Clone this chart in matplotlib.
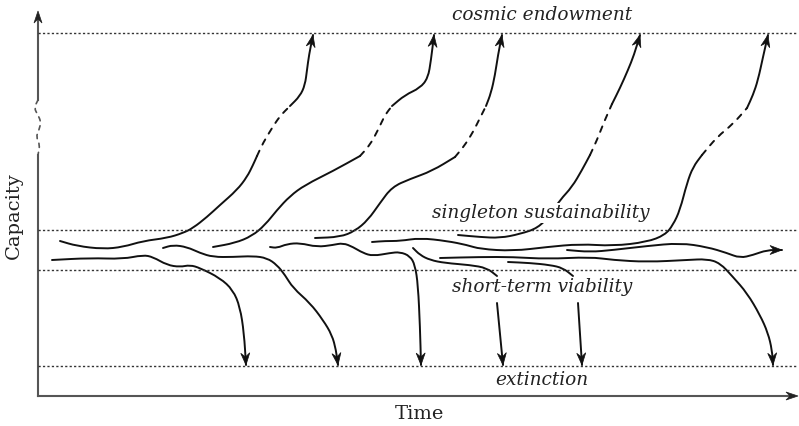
import numpy as np
import matplotlib.pyplot as plt
from matplotlib.path import Path
from matplotlib.patches import PathPatch, Polygon

# ── Data (diagram traced in pixel units, y grows downward) ────────────────────
level_names = ["cosmic endowment", "singleton sustainability",
               "short-term viability", "extinction"]
level_y     = [33, 230, 270, 366]
label_x     = [542, 541, 542, 542]
label_y     = [15, 213, 287, 380]

# trajectories that rise to the cosmic endowment: solid / dashed / solid
up1_low  = [(60, 241), (77, 246), (103, 249), (123, 247), (143, 241), (167, 238),
            (183, 233), (193, 228), (207, 217), (220, 205), (237, 190), (247, 177),
            (253, 165), (257, 156)]
up1_mid  = [(257, 156), (263, 143), (272, 128), (280, 116), (290, 106)]
up1_top  = [(290, 106), (300, 96), (305, 85), (307, 70), (309, 55), (313, 35)]

up2_low  = [(213, 247), (235, 243), (252, 236), (265, 225), (277, 210), (290, 196),
            (305, 185), (333, 171), (360, 156)]
up2_mid  = [(360, 156), (370, 145), (378, 130), (385, 115), (392, 106)]
up2_top  = [(392, 106), (405, 95), (420, 88), (428, 78), (431, 60), (434, 35)]

up3_low  = [(315, 238), (340, 237), (355, 231), (368, 220), (380, 203), (392, 187),
            (410, 179), (432, 171), (455, 157)]
up3_mid  = [(455, 157), (465, 145), (473, 132), (480, 118), (486, 106)]
up3_top  = [(486, 106), (491, 93), (495, 75), (498, 55), (502, 35)]

up4_low  = [(458, 235), (480, 237), (500, 238), (520, 234), (538, 228), (550, 215),
            (560, 200), (572, 187), (582, 170), (590, 155)]
up4_mid  = [(590, 155), (597, 140), (604, 122), (612, 104)]
up4_top  = [(612, 104), (620, 88), (628, 70), (634, 55), (640, 35)]

up5_low  = [(372, 242), (385, 241), (400, 241), (420, 238), (447, 241), (467, 245),
            (480, 249), (513, 251), (547, 247), (580, 244), (613, 246), (647, 242),
            (665, 235), (673, 225), (680, 210), (687, 183), (693, 167), (702, 155)]
up5_mid  = [(702, 155), (717, 137), (733, 124), (747, 108)]
up5_top  = [(747, 108), (753, 95), (758, 80), (763, 57), (768, 35)]

# trajectories that fall to extinction
down1 = [(52, 260), (90, 258), (123, 259), (143, 255), (153, 257), (167, 265),
         (180, 267), (190, 265), (200, 268), (220, 278), (233, 290), (240, 307),
         (244, 333), (246, 365)]
down2 = [(163, 248), (173, 245), (187, 247), (200, 253), (213, 257), (233, 257),
         (253, 256), (267, 258), (277, 265), (285, 275), (293, 288), (310, 303),
         (323, 320), (332, 335), (336, 350), (338, 365)]
down3 = [(270, 247), (277, 248), (287, 244), (300, 243), (317, 247), (333, 245),
         (343, 243), (353, 247), (363, 253), (373, 256), (390, 253), (400, 252),
         (410, 256), (415, 265), (418, 285), (420, 327), (421, 365)]
down4_a = [(413, 248), (420, 255), (430, 260), (445, 263), (470, 265), (487, 268),
           (497, 276)]
down4_b = [(497, 303), (503, 365)]
down5_a = [(508, 262), (530, 263), (550, 265), (563, 268), (573, 276)]
down5_b = [(578, 303), (582, 365)]
down6 = [(440, 258), (480, 257), (513, 257), (547, 259), (590, 257), (613, 260),
         (647, 262), (687, 260), (707, 259), (720, 263), (733, 277), (747, 293),
         (760, 315), (768, 333), (772, 350), (773, 365)]

# the one that keeps going sideways
onward = [(567, 250), (590, 252), (613, 250), (647, 246), (680, 243), (707, 247),
          (727, 253), (740, 258), (753, 255), (767, 250), (782, 250)]

# axis break on the capacity axis
axis_break = [(38, 100), (34, 108), (38, 115), (41, 122), (39, 130), (36, 137),
              (40, 144), (38, 155)]

# ── Style ─────────────────────────────────────────────────────────────────────
INK   = "#111111"
AXIS  = "#555555"
DOTS  = "#333333"
LW    = 1.4
SERIF = ["DejaVu Serif"]

fig = plt.figure(figsize=(7.99, 4.26), dpi=100, facecolor="white")
ax = fig.add_axes([0, 0, 1, 1])
ax.set_xlim(0, 799)
ax.set_ylim(426, 0)
ax.axis("off")


def smooth(pts, ls="-", color=INK, lw=LW):
    # quadratic bezier through midpoints, points act as control points
    p = np.array(pts, dtype=float)
    if len(p) < 3:
        ax.plot(p[:, 0], p[:, 1], color=color, lw=lw, ls=ls,
                solid_capstyle="round")
        return
    verts = [p[0], (p[0] + p[1]) / 2]
    codes = [Path.MOVETO, Path.LINETO]
    for i in range(1, len(p) - 1):
        verts += [p[i], (p[i] + p[i + 1]) / 2]
        codes += [Path.CURVE3, Path.CURVE3]
    verts.append(p[-1])
    codes.append(Path.LINETO)
    ax.add_patch(PathPatch(Path(verts, codes), fill=False, edgecolor=color,
                           lw=lw, ls=ls, capstyle="round"))


def head(pts, color=INK, length=12, width=9, notch=4):
    (x0, y0), (x1, y1) = pts[-2], pts[-1]
    d = np.array([x1 - x0, y1 - y0], dtype=float)
    d /= np.hypot(*d)
    n = np.array([-d[1], d[0]])
    tip = np.array([x1, y1], dtype=float)
    back = tip - d * length
    poly = [tip, back + n * width / 2, tip - d * (length - notch),
            back - n * width / 2]
    ax.add_patch(Polygon(poly, closed=True, facecolor=color, edgecolor=color,
                         lw=0.5, zorder=5))


# ── Axes of the diagram ───────────────────────────────────────────────────────
ax.plot([38, 38], [396, 155], color=AXIS, lw=1.5)
ax.plot([38, 38], [100, 18], color=AXIS, lw=1.5)
smooth(axis_break, ls=(0, (2.5, 3)), color=AXIS, lw=1.2)
head([(38, 30), (38, 11)], color="#222222", length=12, width=8)
ax.plot([38, 790], [396, 396], color=AXIS, lw=1.5)
head([(780, 396), (798, 396)], color="#222222", length=12, width=8)

ax.text(419, 414, "Time", family=SERIF, fontsize=14, color="#222222",
        ha="center", va="center")
ax.text(14, 216, "Capacity", family=SERIF, fontsize=14, color="#222222",
        ha="center", va="center", rotation=90)

# ── Levels ────────────────────────────────────────────────────────────────────
for name, y, tx, ty in zip(level_names, level_y, label_x, label_y):
    ax.plot([38, 797], [y, y], color=DOTS, lw=1.0, ls=(0, (1.6, 1.6)))
    ax.text(tx, ty, name, family=SERIF, style="italic", fontsize=13.3,
            color="#222222", ha="center", va="center", zorder=6,
            bbox=dict(facecolor="white", edgecolor="none", pad=0.6))

# ── Trajectories ──────────────────────────────────────────────────────────────
for low, mid, top in [(up1_low, up1_mid, up1_top), (up2_low, up2_mid, up2_top),
                      (up3_low, up3_mid, up3_top), (up4_low, up4_mid, up4_top),
                      (up5_low, up5_mid, up5_top)]:
    smooth(low)
    smooth(mid, ls=(0, (3, 3.5)))
    smooth(top)
    head(top)

for line in [down1, down2, down3, down6, onward]:
    smooth(line)
    head(line)

for a, b in [(down4_a, down4_b), (down5_a, down5_b)]:
    smooth(a)
    smooth(b)
    head(b)

plt.savefig("out.png", dpi=100, facecolor="white")
